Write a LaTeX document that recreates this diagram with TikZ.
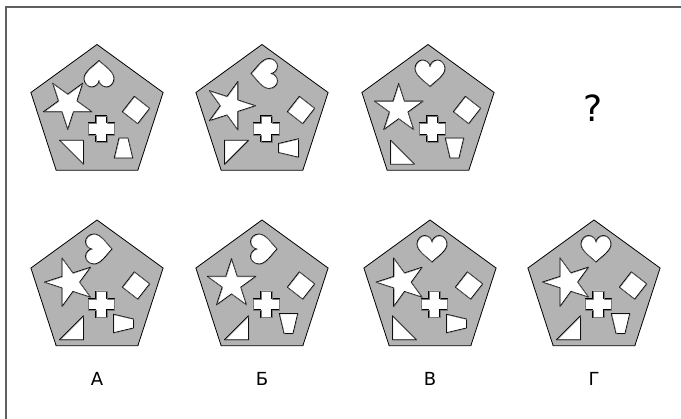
\documentclass[tikz,border=0pt]{standalone}
\usepackage{fontspec}
\setmainfont{DejaVu Sans}
\definecolor{pentgray}{RGB}{179,179,179}
\definecolor{framegray}{RGB}{96,96,96}
\definecolor{edgegray}{RGB}{120,120,120}
\tikzset{
  x=1pt,y=1pt,
  pent/.style={draw=black,line width=0.8pt,fill=pentgray,line join=miter},
  shp/.style={draw=black,line width=0.8pt,fill=white,line join=round,
    postaction={draw=edgegray,line width=0.4pt,transform canvas={shift={(0.5,-0.5)}}}},
  lbl/.style={font=\fontsize{18}{21}\selectfont,inner sep=0pt},
  pheart/.pic={\draw[shp] (0,-13) .. controls (-5,-8) and (-15,-2) .. (-15,5)
     .. controls (-15,10) and (-11,13.5) .. (-7.5,13.5)
     .. controls (-3.5,13.5) and (0,10) .. (0,7)
     .. controls (0,10) and (3.5,13.5) .. (7.5,13.5)
     .. controls (11,13.5) and (15,10) .. (15,5)
     .. controls (15,-2) and (5,-8) .. (0,-13) -- cycle;},
  pstar/.pic={\draw[shp] (90:25.5)--(126:9.75)--(162:25.5)--(198:9.75)--(234:25.5)--(270:9.75)--(306:25.5)--(342:9.75)--(18:25.5)--(54:9.75)--cycle;},
  pcross/.pic={\draw[shp] (-5.75,13)--(5.75,13)--(5.75,5.75)--(13,5.75)--(13,-5.75)--(5.75,-5.75)--(5.75,-13)--(-5.75,-13)--(-5.75,-5.75)--(-13,-5.75)--(-13,5.75)--(-5.75,5.75)--cycle;},
  psq/.pic={\draw[shp] (-9.75,-9.75) rectangle (9.75,9.75);},
  ptri/.pic={\draw[shp] (-12,12)--(12,12)--(12,-12)--cycle;},
  ptrap/.pic={\draw[shp] (-4.5,10)--(4.5,10)--(9.25,-10)--(-9.25,-10)--cycle;},
}
\newcommand{\pentbody}{%
  \draw[pent] (90:69.5)--(162:69.5)--(234:69.5)--(306:69.5)--(18:69.5)--cycle;
  \pic[rotate=-38] at (39,4) {psq};
  \pic at (4,-14.5) {pcross};
}
\begin{document}
\begin{tikzpicture}
\useasboundingbox (0,0) rectangle (681,-419);
\fill[white] (0,0) rectangle (681,-419);
\draw[framegray,line width=2pt] (6,-419) -- (6,-7) -- (681,-7);

% top row
\begin{scope}[shift={(97,-114)}]
  \pentbody
  \pic[rotate=180] at (2,40.5) {pheart};
  \pic[rotate=36] at (-29.3,10.1) {pstar};
  \pic[rotate=0] at (-25.5,-38.3) {ptri};
  \pic[rotate=0] at (26.5,-34) {ptrap};
\end{scope}
\begin{scope}[shift={(262,-114)}]
  \pentbody
  \pic[rotate=-90] at (2,40.5) {pheart};
  \pic[rotate=-18] at (-32,8.3) {pstar};
  \pic[rotate=90] at (-25.5,-38.3) {ptri};
  \pic[rotate=90] at (26.5,-34) {ptrap};
\end{scope}
\begin{scope}[shift={(428,-114)}]
  \pentbody
  \pic[rotate=0] at (2,40.5) {pheart};
  \pic[rotate=0] at (-29.3,5) {pstar};
  \pic[rotate=180] at (-25.5,-38.3) {ptri};
  \pic[rotate=180] at (26.5,-34) {ptrap};
\end{scope}
\node[font=\fontsize{36}{42}\selectfont,inner sep=0pt] (q) at (593,-108) {?};

% bottom row
\begin{scope}[shift={(97,-289.5)}]
  \pentbody
  \pic[rotate=90] at (2,40.5) {pheart};
  \pic[rotate=18] at (-27.1,7.3) {pstar};
  \pic[rotate=-90] at (-25.5,-38.3) {ptri};
  \pic[rotate=-90] at (26.5,-34) {ptrap};
\end{scope}
\begin{scope}[shift={(262,-289.5)}]
  \pentbody
  \pic[rotate=90] at (2,40.5) {pheart};
  \pic[rotate=0] at (-30.5,5.3) {pstar};
  \pic[rotate=-90] at (-25.5,-38.3) {ptri};
  \pic[rotate=180] at (26.5,-34) {ptrap};
\end{scope}
\begin{scope}[shift={(430,-289.5)}]
  \pentbody
  \pic[rotate=0] at (2,40.5) {pheart};
  \pic[rotate=18] at (-28.5,7.3) {pstar};
  \pic[rotate=180] at (-25.5,-38.3) {ptri};
  \pic[rotate=-90] at (26.5,-34) {ptrap};
\end{scope}
\begin{scope}[shift={(594,-289.5)}]
  \pentbody
  \pic[rotate=0] at (2,40.5) {pheart};
  \pic[rotate=18] at (-26.1,7.4) {pstar};
  \pic[rotate=-90] at (-25.5,-38.3) {ptri};
  \pic[rotate=180] at (26.5,-34) {ptrap};
\end{scope}

\node[lbl] (la) at (97,-379) {А};
\node[lbl] (lb) at (262,-379) {Б};
\node[lbl] (lc) at (430,-379) {В};
\node[lbl] (ld) at (594,-379) {Г};
\end{tikzpicture}
\end{document}
